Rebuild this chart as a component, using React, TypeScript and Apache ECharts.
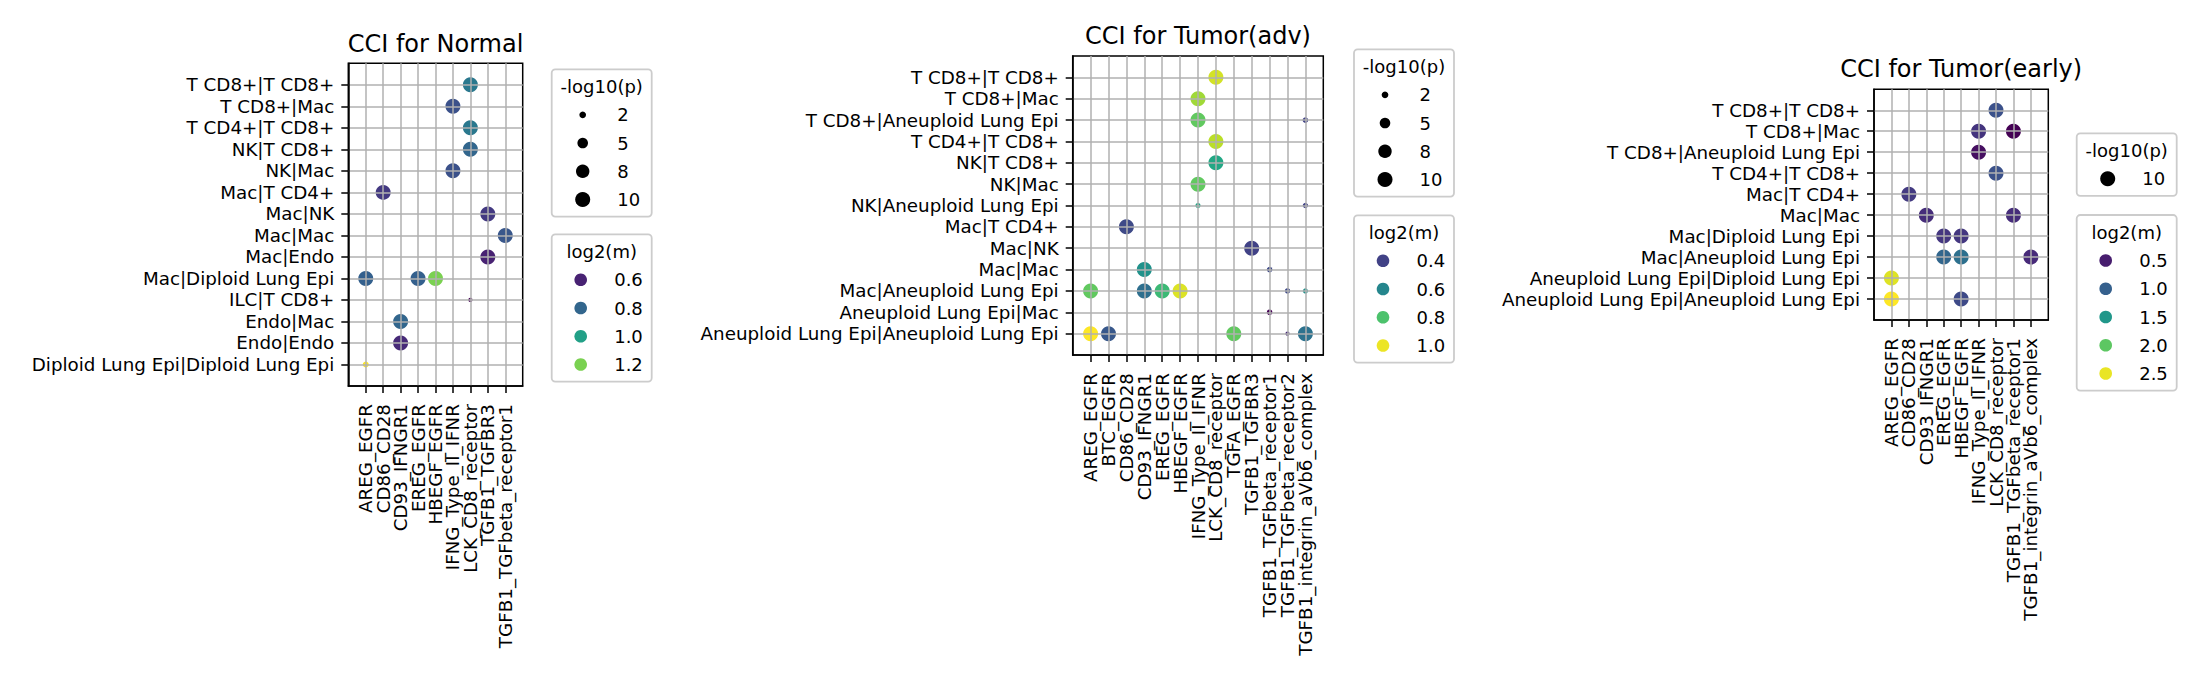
import React, { useEffect, useRef } from "react";
import * as echarts from "echarts";

// ---------- DATA ----------
const normalTitle = "CCI for Normal";
const normalCols = ["AREG_EGFR", "CD86_CD28", "CD93_IFNGR1", "EREG_EGFR", "HBEGF_EGFR", "IFNG_Type_II_IFNR", "LCK_CD8_receptor", "TGFB1_TGFBR3", "TGFB1_TGFbeta_receptor1"];
const normalRows = ["T CD8+|T CD8+", "T CD8+|Mac", "T CD4+|T CD8+", "NK|T CD8+", "NK|Mac", "Mac|T CD4+", "Mac|NK", "Mac|Mac", "Mac|Endo", "Mac|Diploid Lung Epi", "ILC|T CD8+", "Endo|Mac", "Endo|Endo", "Diploid Lung Epi|Diploid Lung Epi"];
// [interaction, cell pair, log2(m), -log10(p)]
const normalPoints: [string, string, number, number][] = [
  ["LCK_CD8_receptor", "T CD8+|T CD8+", 0.86, 10],
  ["IFNG_Type_II_IFNR", "T CD8+|Mac", 0.73, 10],
  ["LCK_CD8_receptor", "T CD4+|T CD8+", 0.86, 10],
  ["LCK_CD8_receptor", "NK|T CD8+", 0.8, 10],
  ["IFNG_Type_II_IFNR", "NK|Mac", 0.73, 10],
  ["CD86_CD28", "Mac|T CD4+", 0.66, 10],
  ["TGFB1_TGFBR3", "Mac|NK", 0.66, 10],
  ["TGFB1_TGFbeta_receptor1", "Mac|Mac", 0.75, 10],
  ["TGFB1_TGFBR3", "Mac|Endo", 0.6, 10],
  ["AREG_EGFR", "Mac|Diploid Lung Epi", 0.78, 10],
  ["EREG_EGFR", "Mac|Diploid Lung Epi", 0.78, 10],
  ["HBEGF_EGFR", "Mac|Diploid Lung Epi", 1.2, 10],
  ["LCK_CD8_receptor", "ILC|T CD8+", 0.52, 0.8],
  ["CD93_IFNGR1", "Endo|Mac", 0.8, 10],
  ["CD93_IFNGR1", "Endo|Endo", 0.62, 10],
  ["AREG_EGFR", "Diploid Lung Epi|Diploid Lung Epi", 1.37, 1.6],
];
const normalSizeLegend = [2, 5, 8, 10];
const normalColorLegend = ["0.6", "0.8", "1.0", "1.2"];

const advTitle = "CCI for Tumor(adv)";
const advCols = ["AREG_EGFR", "BTC_EGFR", "CD86_CD28", "CD93_IFNGR1", "EREG_EGFR", "HBEGF_EGFR", "IFNG_Type_II_IFNR", "LCK_CD8_receptor", "TGFA_EGFR", "TGFB1_TGFBR3", "TGFB1_TGFbeta_receptor1", "TGFB1_TGFbeta_receptor2", "TGFB1_integrin_aVb6_complex"];
const advRows = ["T CD8+|T CD8+", "T CD8+|Mac", "T CD8+|Aneuploid Lung Epi", "T CD4+|T CD8+", "NK|T CD8+", "NK|Mac", "NK|Aneuploid Lung Epi", "Mac|T CD4+", "Mac|NK", "Mac|Mac", "Mac|Aneuploid Lung Epi", "Aneuploid Lung Epi|Mac", "Aneuploid Lung Epi|Aneuploid Lung Epi"];
const advPoints: [string, string, number, number][] = [
  ["LCK_CD8_receptor", "T CD8+|T CD8+", 0.97, 10],
  ["IFNG_Type_II_IFNR", "T CD8+|Mac", 0.91, 10],
  ["IFNG_Type_II_IFNR", "T CD8+|Aneuploid Lung Epi", 0.83, 10],
  ["TGFB1_integrin_aVb6_complex", "T CD8+|Aneuploid Lung Epi", 0.4, 1.4],
  ["LCK_CD8_receptor", "T CD4+|T CD8+", 0.94, 10],
  ["LCK_CD8_receptor", "NK|T CD8+", 0.71, 10],
  ["IFNG_Type_II_IFNR", "NK|Mac", 0.83, 10],
  ["IFNG_Type_II_IFNR", "NK|Aneuploid Lung Epi", 0.7, 1.2],
  ["TGFB1_integrin_aVb6_complex", "NK|Aneuploid Lung Epi", 0.4, 1.3],
  ["CD86_CD28", "Mac|T CD4+", 0.42, 10],
  ["TGFB1_TGFBR3", "Mac|NK", 0.4, 10],
  ["CD93_IFNGR1", "Mac|Mac", 0.64, 10],
  ["TGFB1_TGFbeta_receptor1", "Mac|Mac", 0.42, 1.4],
  ["AREG_EGFR", "Mac|Aneuploid Lung Epi", 0.83, 10],
  ["CD93_IFNGR1", "Mac|Aneuploid Lung Epi", 0.53, 10],
  ["EREG_EGFR", "Mac|Aneuploid Lung Epi", 0.77, 10],
  ["HBEGF_EGFR", "Mac|Aneuploid Lung Epi", 0.98, 10],
  ["TGFB1_TGFbeta_receptor2", "Mac|Aneuploid Lung Epi", 0.42, 1.3],
  ["TGFB1_integrin_aVb6_complex", "Mac|Aneuploid Lung Epi", 0.64, 1.2],
  ["TGFB1_TGFbeta_receptor1", "Aneuploid Lung Epi|Mac", 0.25, 1.4],
  ["AREG_EGFR", "Aneuploid Lung Epi|Aneuploid Lung Epi", 1.02, 10],
  ["BTC_EGFR", "Aneuploid Lung Epi|Aneuploid Lung Epi", 0.46, 10],
  ["TGFA_EGFR", "Aneuploid Lung Epi|Aneuploid Lung Epi", 0.83, 10],
  ["TGFB1_TGFbeta_receptor2", "Aneuploid Lung Epi|Aneuploid Lung Epi", 0.34, 0.8],
  ["TGFB1_integrin_aVb6_complex", "Aneuploid Lung Epi|Aneuploid Lung Epi", 0.54, 10],
];
const advSizeLegend = [2, 5, 8, 10];
const advColorLegend = ["0.4", "0.6", "0.8", "1.0"];

const earlyTitle = "CCI for Tumor(early)";
const earlyCols = ["AREG_EGFR", "CD86_CD28", "CD93_IFNGR1", "EREG_EGFR", "HBEGF_EGFR", "IFNG_Type_II_IFNR", "LCK_CD8_receptor", "TGFB1_TGFbeta_receptor1", "TGFB1_integrin_aVb6_complex"];
const earlyRows = ["T CD8+|T CD8+", "T CD8+|Mac", "T CD8+|Aneuploid Lung Epi", "T CD4+|T CD8+", "Mac|T CD4+", "Mac|Mac", "Mac|Diploid Lung Epi", "Mac|Aneuploid Lung Epi", "Aneuploid Lung Epi|Diploid Lung Epi", "Aneuploid Lung Epi|Aneuploid Lung Epi"];
const earlyPoints: [string, string, number, number][] = [
  ["LCK_CD8_receptor", "T CD8+|T CD8+", 0.88, 10],
  ["IFNG_Type_II_IFNR", "T CD8+|Mac", 0.66, 10],
  ["TGFB1_TGFbeta_receptor1", "T CD8+|Mac", 0.32, 10],
  ["IFNG_Type_II_IFNR", "T CD8+|Aneuploid Lung Epi", 0.41, 10],
  ["LCK_CD8_receptor", "T CD4+|T CD8+", 0.88, 10],
  ["CD86_CD28", "Mac|T CD4+", 0.7, 10],
  ["CD93_IFNGR1", "Mac|Mac", 0.61, 10],
  ["TGFB1_TGFbeta_receptor1", "Mac|Mac", 0.61, 10],
  ["EREG_EGFR", "Mac|Diploid Lung Epi", 0.68, 10],
  ["HBEGF_EGFR", "Mac|Diploid Lung Epi", 0.68, 10],
  ["EREG_EGFR", "Mac|Aneuploid Lung Epi", 1.06, 10],
  ["HBEGF_EGFR", "Mac|Aneuploid Lung Epi", 1.15, 10],
  ["TGFB1_integrin_aVb6_complex", "Mac|Aneuploid Lung Epi", 0.59, 10],
  ["AREG_EGFR", "Aneuploid Lung Epi|Diploid Lung Epi", 2.46, 10],
  ["AREG_EGFR", "Aneuploid Lung Epi|Aneuploid Lung Epi", 2.57, 10],
  ["HBEGF_EGFR", "Aneuploid Lung Epi|Aneuploid Lung Epi", 0.82, 10],
];
const earlySizeLegend = [10];
const earlyColorLegend = ["0.5", "1.0", "1.5", "2.0", "2.5"];

const sizeLegendTitle = "-log10(p)";
const colorLegendTitle = "log2(m)";

// ---------- STYLE / LAYOUT ----------
const VIRIDIS = ["#440154", "#482475", "#414487", "#355f8d", "#2a788e", "#21918c", "#22a884", "#44bf70", "#7ad151", "#bddf26", "#fde725"];
const FONT = "DejaVu Sans";
const LEG_FONT = '18px "DejaVu Sans"';

const panels = [
  { title: normalTitle, cols: normalCols, rows: normalRows, points: normalPoints, sizeLeg: normalSizeLegend, colorLeg: normalColorLegend,
    left: 348.3, top: 63.3, width: 174.4, height: 322.7, titleY: 43.5, legX: 551.7, sizeTop: 69.3, colorTop: 234.3 },
  { title: advTitle, cols: advCols, rows: advRows, points: advPoints, sizeLeg: advSizeLegend, colorLeg: advColorLegend,
    left: 1072.7, top: 56, width: 250.6, height: 299, titleY: 36, legX: 1354, sizeTop: 49.3, colorTop: 215.3 },
  { title: earlyTitle, cols: earlyCols, rows: earlyRows, points: earlyPoints, sizeLeg: earlySizeLegend, colorLeg: earlyColorLegend,
    left: 1874, top: 89.3, width: 174.3, height: 230.7, titleY: 69, legX: 2076.7, sizeTop: 133.3, colorTop: 215 },
];

const dotSize = (p: number) => 15 * Math.sqrt(p / 10);

function hexToRgb(h: string) {
  return [parseInt(h.slice(1, 3), 16), parseInt(h.slice(3, 5), 16), parseInt(h.slice(5, 7), 16)];
}
function viridisAt(t: number) {
  const c = Math.max(0, Math.min(1, t)) * (VIRIDIS.length - 1);
  const i = Math.min(VIRIDIS.length - 2, Math.floor(c));
  const f = c - i;
  const a = hexToRgb(VIRIDIS[i]);
  const b = hexToRgb(VIRIDIS[i + 1]);
  const m = a.map((v, k) => Math.round(v + (b[k] - v) * f));
  return `rgb(${m[0]},${m[1]},${m[2]})`;
}

const LEG_W = 100;
const LEG_PAD_TOP = 17.2;
const LEG_FIRST = 45.5;
const LEG_STEP = 28.25;
const TITLE_SIZE = 24;

function txt(x: number, y: number, text: string, font: string, align: string) {
  return { type: "text", x, y, style: { text, font, fill: "#000", align, verticalAlign: "middle" } };
}

function buildOption() {
  const grid: any[] = [];
  const xAxis: any[] = [];
  const yAxis: any[] = [];
  const series: any[] = [];
  const visualMap: any[] = [];
  const graphic: any[] = [];
  const title: any[] = [];
  const notPad = (_i: number, v: string) => v !== "";

  panels.forEach((pn, i) => {
    grid.push({ left: pn.left, top: pn.top, width: pn.width, height: pn.height, show: true, borderColor: "#000", borderWidth: 1.5, backgroundColor: "#fff" });
    // empty padding categories at both ends give one unit of margin like matplotlib
    const xCats = ["", ...pn.cols, ""];
    const yCats = ["", ...pn.rows, ""];
    const axisCommon = {
      z: 3,
      boundaryGap: false,
      axisLine: { show: true, onZero: false, lineStyle: { color: "#000", width: 1.5 } },
      axisTick: { show: true, length: 7, interval: notPad, lineStyle: { color: "#000", width: 1.5 } },
      splitLine: { show: true, interval: notPad, lineStyle: { color: "#b0b0b0", width: 1.5 } },
    };
    const labelCommon = { interval: 0, hideOverlap: false, fontSize: 18.3, fontFamily: FONT, color: "#000" };
    xAxis.push({
      type: "category", gridIndex: i, data: xCats, ...axisCommon,
      axisLabel: { ...labelCommon, rotate: 90, margin: 18 },
    });
    yAxis.push({
      type: "category", gridIndex: i, data: yCats, inverse: true, ...axisCommon,
      axisLabel: { ...labelCommon, margin: 14 },
    });
    const data = pn.points.map(([c, r, m, p]) => [pn.cols.indexOf(c) + 1, pn.rows.indexOf(r) + 1, m, p]);
    const ms = pn.points.map((p) => p[2]);
    const vmin = Math.min(...ms);
    const vmax = Math.max(...ms);
    series.push({
      type: "scatter", xAxisIndex: i, yAxisIndex: i, z: 2, data,
      symbolSize: (v: number[]) => dotSize(v[3]),
      itemStyle: { opacity: 1 },
      emphasis: { disabled: true },
    });
    visualMap.push({ type: "continuous", show: false, seriesIndex: i, dimension: 2, min: vmin, max: vmax, inRange: { color: VIRIDIS } });

    // title
    title.push({
      text: pn.title, left: pn.left + pn.width / 2, top: pn.titleY - TITLE_SIZE / 2, textAlign: "center", padding: 0,
      textStyle: { fontSize: TITLE_SIZE, fontFamily: FONT, fontWeight: "normal", color: "#000", lineHeight: TITLE_SIZE },
    });

    // size legend
    const sH = 14.4 + 20 + LEG_STEP * pn.sizeLeg.length;
    graphic.push({ type: "rect", shape: { x: pn.legX, y: pn.sizeTop, width: LEG_W, height: sH, r: 3.6 }, style: { fill: "#fff", stroke: "#cccccc", lineWidth: 1.8 } });
    graphic.push(txt(pn.legX + LEG_W / 2, pn.sizeTop + LEG_PAD_TOP, sizeLegendTitle, LEG_FONT, "center"));
    pn.sizeLeg.forEach((v, k) => {
      const cy = pn.sizeTop + LEG_FIRST + LEG_STEP * k;
      graphic.push({ type: "circle", shape: { cx: pn.legX + 31, cy, r: dotSize(v) / 2 }, style: { fill: "#000" } });
      graphic.push(txt(pn.legX + 65.5, cy, String(v), LEG_FONT, "left"));
    });

    // color legend
    const cH = 14.4 + 20 + LEG_STEP * pn.colorLeg.length;
    graphic.push({ type: "rect", shape: { x: pn.legX, y: pn.colorTop, width: LEG_W, height: cH, r: 3.6 }, style: { fill: "#fff", stroke: "#cccccc", lineWidth: 1.8 } });
    graphic.push(txt(pn.legX + LEG_W / 2, pn.colorTop + LEG_PAD_TOP, colorLegendTitle, LEG_FONT, "center"));
    pn.colorLeg.forEach((lab, k) => {
      const cy = pn.colorTop + LEG_FIRST + LEG_STEP * k;
      const t = (parseFloat(lab) - vmin) / (vmax - vmin);
      graphic.push({ type: "circle", shape: { cx: pn.legX + 29, cy, r: 6.3 }, style: { fill: viridisAt(t) } });
      graphic.push(txt(pn.legX + 62.5, cy, lab, LEG_FONT, "left"));
    });
  });

  return { animation: false, backgroundColor: "#fff", title, grid, xAxis, yAxis, series, visualMap, graphic };
}

export default function App() {
  const ref = useRef<HTMLDivElement>(null);
  useEffect(() => {
    if (!ref.current) return;
    const chart = echarts.init(ref.current, null, { renderer: "svg" });
    chart.setOption(buildOption() as any);
    return () => chart.dispose();
  }, []);
  return <div ref={ref} style={{ position: "absolute", left: 0, top: 0, width: 2202, height: 686, background: "#fff" }} />;
}
